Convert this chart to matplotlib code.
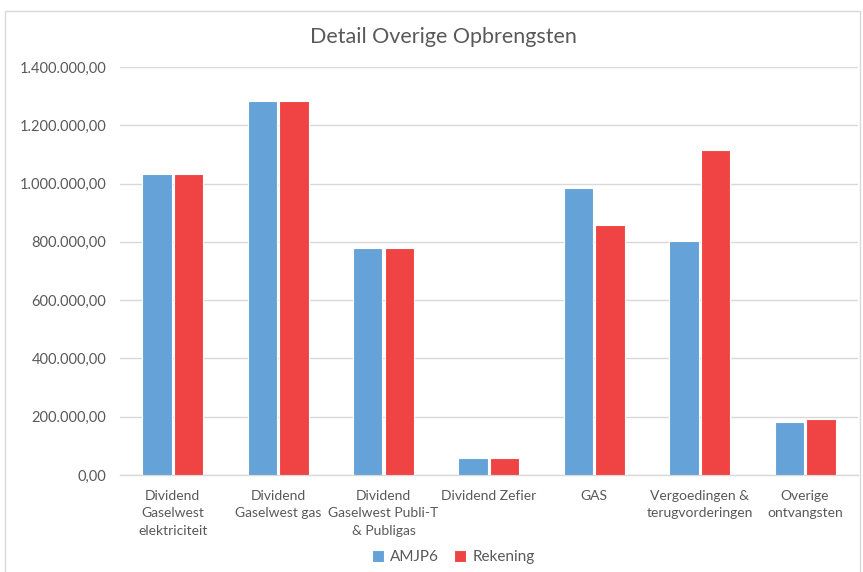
import numpy as np
import matplotlib.pyplot as plt
from matplotlib.ticker import FuncFormatter, MultipleLocator
from matplotlib.patches import Rectangle

categories = ['Dividend\nGaselwest\nelektriciteit', 'Dividend\nGaselwest gas',
              'Dividend\nGaselwest Publi-T\n& Publigas', 'Dividend Zefier', 'GAS',
              'Vergoedingen &\nterugvorderingen', 'Overige\nontvangsten']
amjp6 = [1033000, 1283000, 779000, 58000, 985000, 802000, 182000]
rekening = [1033000, 1283000, 779000, 58000, 856000, 1115000, 192000]

plt.rcParams['font.family'] = ['Lato', 'DejaVu Sans']
grey = '#595959'

fig = plt.figure(figsize=(8.63, 5.72), dpi=100)
ax = fig.add_axes([0.139, 0.1696, 0.855, 0.7134])

x = np.arange(len(categories))
w = 0.28
ax.bar(x - w/2 - 0.01, amjp6, w, color='#65A2D8', edgecolor='white', linewidth=0.8, label='AMJP6', zorder=3)
ax.bar(x + w/2 + 0.01, rekening, w, color='#F04343', edgecolor='white', linewidth=0.8, label='Rekening', zorder=3)

ax.set_xlim(-0.5, len(categories) - 0.5)
ax.set_ylim(0, 1400000)
ax.yaxis.set_major_locator(MultipleLocator(200000))

def fmt(v, pos):
    s = f'{v:,.2f}'
    return s.replace(',', 'X').replace('.', ',').replace('X', '.')

ax.yaxis.set_major_formatter(FuncFormatter(fmt))
ax.grid(axis='y', color='#D9D9D9', linewidth=1, zorder=0)
for s in ['top', 'right', 'left']:
    ax.spines[s].set_visible(False)
ax.spines['bottom'].set_color('#D9D9D9')
ax.spines['bottom'].set_linewidth(1)
ax.set_xticks(x)
ax.set_xticklabels(categories, fontsize=10, color=grey, linespacing=1.58, va='top')
ax.tick_params(axis='x', length=0, pad=10.5)
ax.tick_params(axis='y', length=0, labelsize=10.5, labelcolor=grey, pad=10)

fig.text(0.514, 0.935, 'Detail Overige Opbrengsten', ha='center', va='center', fontsize=15.5, color=grey)
fig.legend(loc='center', bbox_to_anchor=(0.525, 0.026), ncol=2, frameon=False, fontsize=11,
           handlelength=0.8, handleheight=0.8, handletextpad=0.4, columnspacing=1.0,
           labelcolor=grey)

fig.patches.append(Rectangle((0.006, -0.01), 0.99, 0.99, transform=fig.transFigure,
                             fill=False, edgecolor='#D9D9D9', linewidth=1))

fig.savefig('out.png', dpi=100)
